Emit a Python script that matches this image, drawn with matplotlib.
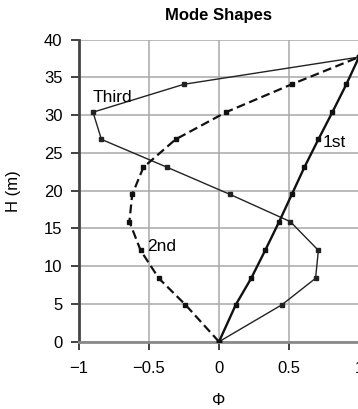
import matplotlib
matplotlib.use("Agg")
import matplotlib.pyplot as plt

plt.rcParams['font.family'] = ['Liberation Sans', 'DejaVu Sans']

heights = [0, 4.9, 8.4, 12.1, 15.9, 19.5, 23.1, 26.8, 30.4, 34.1, 37.7]
mode1 = [0, 0.12, 0.23, 0.33, 0.43, 0.52, 0.61, 0.71, 0.81, 0.91, 1.0]
mode2 = [0, -0.24, -0.43, -0.56, -0.64, -0.62, -0.54, -0.31, 0.05, 0.52, 1.0]
mode3 = [0, 0.45, 0.69, 0.71, 0.51, 0.08, -0.37, -0.84, -0.90, -0.25, 1.0]
xticks = [-1, -0.5, 0, 0.5, 1]
xticklabels = ['\u22121', '\u22120.5', '0', '0.5', '1']
yticks = [0, 5, 10, 15, 20, 25, 30, 35, 40]

fig = plt.figure(figsize=(3.58, 4.09), dpi=100)
ax = fig.add_axes([0.2207, 0.1645, 0.782, 0.7384])

ax.plot(mode3, heights, color='#222222', lw=1.0, marker='s', ms=2.2, zorder=3)
ax.plot(mode2, heights, color='#111111', lw=1.6, ls=(0, (4, 2)), marker='s', ms=2.2, zorder=3)
ax.plot(mode1, heights, color='#111111', lw=1.7, marker='s', ms=2.2, zorder=3)

ax.set_xlim(-1, 1)
ax.set_ylim(0, 40)
ax.set_xticks(xticks)
ax.set_xticklabels(xticklabels)
ax.set_yticks(yticks)
ax.grid(True, color='#a8a8a8', lw=1.1, ls='-')
ax.set_axisbelow(True)
for s in ['top', 'right']:
    ax.spines[s].set_visible(False)
ax.spines['left'].set_color('#444444')
ax.spines['left'].set_linewidth(2.0)
ax.spines['bottom'].set_color('#8a8a8a')
ax.spines['bottom'].set_linewidth(2.0)
ax.tick_params(axis='both', labelsize=12, length=6, width=1.3, color='#333333')
ax.tick_params(axis='y', pad=6)
ax.tick_params(axis='x', pad=8)

ax.set_title('Mode Shapes', fontsize=12, fontweight='bold', pad=14.5)
ax.set_ylabel('H (m)', fontsize=12, labelpad=16)
ax.set_xlabel('\u03a6', fontsize=12, labelpad=12)

ax.text(-0.9, 32.4, 'Third', fontsize=12.5, ha='left', va='center')
ax.text(0.74, 26.4, '1st', fontsize=12.5, ha='left', va='center')
ax.text(-0.51, 12.6, '2nd', fontsize=12.5, ha='left', va='center')

fig.savefig('out.png', dpi=100)
